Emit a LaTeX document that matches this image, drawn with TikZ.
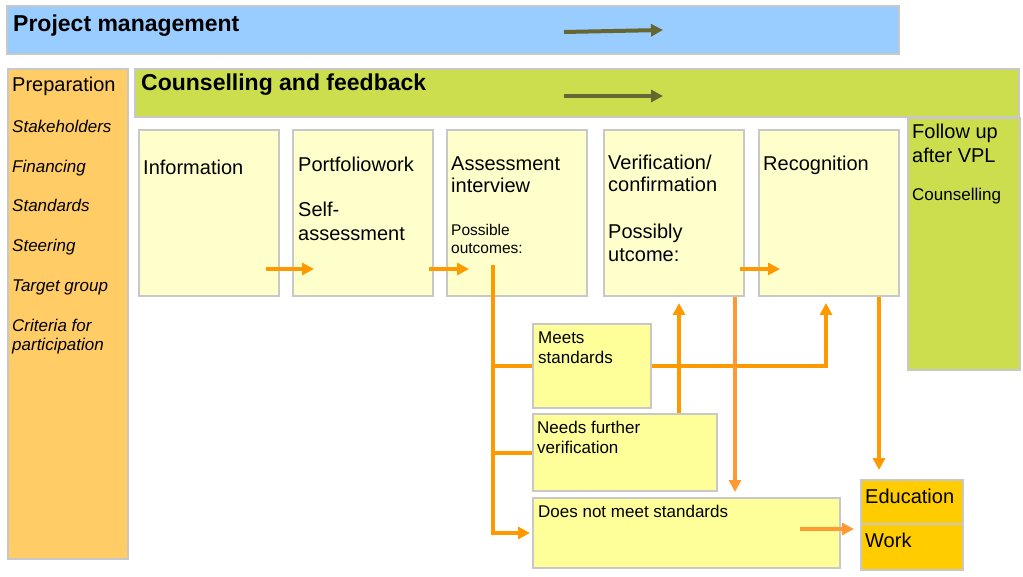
\documentclass[tikz,border=0pt]{standalone}
\usepackage{fontspec}
\setmainfont{Liberation Sans}
\usetikzlibrary{arrows.meta,positioning}
\definecolor{pmblue}{HTML}{99CCFF}
\definecolor{cfgreen}{HTML}{CCDE4E}
\definecolor{prepamber}{HTML}{FFCC66}
\definecolor{stagefill}{HTML}{FFFFCC}
\definecolor{outfill}{HTML}{FFFF99}
\definecolor{destgold}{HTML}{FFCC00}
\definecolor{edgegrey}{HTML}{C8C8C8}
\definecolor{flowor}{HTML}{FF9900}
\definecolor{flowlight}{HTML}{FF9933}
\definecolor{olive}{HTML}{666633}
\newcommand{\fsz}[1]{\fontsize{#1}{1.15\dimexpr#1pt\relax}\selectfont}

\tikzset{
  panel/.style={draw=edgegrey,line width=2pt,anchor=north west,inner sep=0pt},
  stagebox/.style={panel,fill=stagefill,minimum width=140pt,minimum height=166pt},
  outbox/.style={panel,fill=outfill},
  txt/.style={anchor=base west,inner sep=0pt,align=left},
  flow/.style={flowor,line width=4pt,-{Triangle[length=12pt,width=12pt]}},
  flowlt/.style={flow,flowlight},
  lane/.style={olive,line width=4pt,-{Triangle[length=12pt,width=12pt]}}
}

\begin{document}
\begin{tikzpicture}[x=1pt,y=-1pt]
    \useasboundingbox (0,0) rectangle (1023,577);

    % bands
    \node[panel,fill=pmblue,minimum width=892pt,minimum height=48pt] (pm) at (6,5) {};
    \node[panel,fill=prepamber,minimum width=120pt,minimum height=490pt] (prep) at (7,68) {};
    \node[panel,fill=cfgreen,minimum width=884pt,minimum height=48pt] (couns) at (134,68) {};
    \node[panel,fill=cfgreen,minimum width=112pt,minimum height=252pt] (follow) at (907,117) {};

    \node[txt,font=\fsz{23}\bfseries] (pmlbl) at (13,32) {Project management};
    \node[txt,font=\fsz{23}\bfseries] (counslbl) at (141,91) {Counselling and feedback};
    \draw[lane] (564,32) -- (663,30);
    \draw[lane] (564,96) -- (663,96);

    % preparation column (base = last line)
    \node[txt,font=\fsz{20}] (preplbl) at (12,92) {Preparation};
    \foreach \lab/\yy [count=\i] in {Stakeholders/133,Financing/173,Standards/212,Steering/252,Target group/292,{Criteria for\\participation}/351}
      \node[txt,font=\fsz{17}\itshape] (prep-\i) at (12,\yy) {\lab};

    % stages
    \node[stagebox] (info)   at (138,129) {};
    \node[stagebox] (portf)  at (292,129) {};
    \node[stagebox] (assess) at (446,129) {};
    \node[stagebox] (verif)  at (603,129) {};
    \node[stagebox] (recog)  at (758,129) {};

    \node[txt,font=\fsz{20}] (infolbl) at (143,175) {Information};
    \node[txt,font=\fsz{20}] (portflbl) at (298,172) {Portfoliowork};
    \node[txt,font=\fsz{20}] (selflbl) at (298,241) {Self-\\[1pt]assessment};
    \node[txt,font=\fsz{20}] (assesslbl) at (451,193) {Assessment\\[-1pt]interview};
    \node[txt,font=\fsz{15.5}] (posslbl) at (451,254) {Possible\\[1pt]outcomes:};
    \node[txt,font=\fsz{20}] (veriflbl) at (608,192) {Verification/\\[-1pt]confirmation};
    \node[txt,font=\fsz{20}] (utclbl) at (608,262) {Possibly\\utcome:};
    \node[txt,font=\fsz{20}] (recoglbl) at (763,171) {Recognition};
    \node[txt,font=\fsz{20}] (followlbl) at (912,163) {Follow up\\[1pt]after VPL};
    \node[txt,font=\fsz{17}] (counsellbl) at (912,201) {Counselling};

    % outcomes
    \node[outbox,minimum width=118pt,minimum height=84pt] (meets) at (532,323) {};
    \node[outbox,minimum width=184pt,minimum height=77pt] (needs) at (532,413) {};
    \node[outbox,minimum width=307pt,minimum height=70pt] (nomeet) at (532,497) {};
    \node[panel,fill=destgold,minimum width=102pt,minimum height=44pt] (edu) at (860,479) {};
    \node[panel,fill=destgold,minimum width=102pt,minimum height=46pt] (work) at (860,523) {};

    \node[txt,font=\fsz{17}] (meetslbl) at (538,363) {Meets\\standards};
    \node[txt,font=\fsz{17}] (needslbl) at (537,453) {Needs further\\verification};
    \node[txt,font=\fsz{17}] (nomeetlbl) at (538,517) {Does not meet standards};
    \node[txt,font=\fsz{20}] (edulbl) at (865,503) {Education};
    \node[txt,font=\fsz{20}] (worklbl) at (865,547) {Work};

    % flow between stages
    \draw[flow] ([xshift=-14pt,yshift=28pt]info.south east) -- ++(48,0);
    \draw[flow] ([xshift=-5pt,yshift=28pt]portf.south east) -- ++(40,0);
    \draw[flow] ([xshift=-5pt,yshift=28pt]verif.south east) -- ++(40,0);

    % outcome branches
    \coordinate (trunk)   at ([xshift=47pt,yshift=32pt]assess.south west);
    \coordinate (verifin) at ([xshift=76pt]verif.south west);
    \coordinate (verifout) at ([xshift=132pt]verif.south west);
    \coordinate (recogin) at ([xshift=68pt]recog.south west);
    \coordinate (recogout) at ([xshift=121pt]recog.south west);
    \coordinate (nomeetout) at ([xshift=-41pt,yshift=40pt]nomeet.south east);
    \draw[flow,shorten >=2pt] (trunk) |- (nomeet.west);
    \draw[flowor,line width=4pt] (meets.west -| trunk) -- (meets.west);
    \draw[flowor,line width=4pt] (needs.west -| trunk) -- (needs.west);
    \draw[flow,shorten >=6pt] (meets.east) -| (recogin);
    \draw[flow,shorten >=6pt] (needs.north -| verifin) -- (verifin);
    \draw[flowlt,shorten >=5pt] (verifout) -- (verifout |- nomeet.north);
    \draw[flow,shorten >=9pt] (recogout) -- (recogout |- edu.north);
    \draw[flowlt,shorten >=6pt] (nomeetout) -- (nomeetout -| work.west);
\end{tikzpicture}
\end{document}
